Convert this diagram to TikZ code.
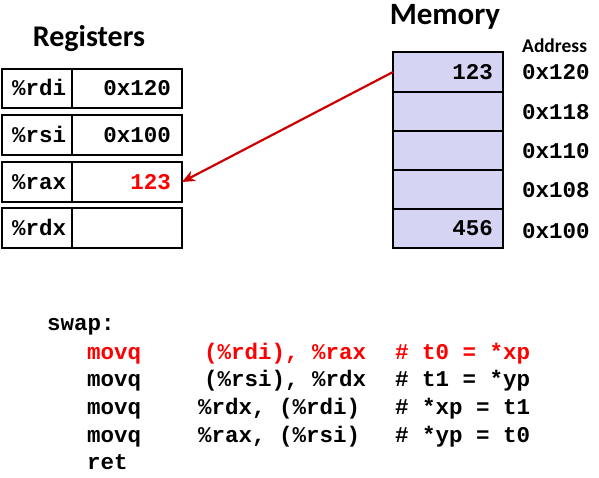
\documentclass[tikz,border=0pt]{standalone}
\usepackage{fontspec}
\setmainfont{Carlito}
\newfontfamily\codefont{Liberation Mono}
\usetikzlibrary{arrows.meta}
\definecolor{memfill}{HTML}{D5D5F3}
\definecolor{arrowred}{HTML}{CC0000}
\definecolor{codered}{HTML}{FF0000}
\tikzset{
  regbox/.style={draw=black,line width=1.8pt},
  membox/.style={draw=black,line width=1.8pt,fill=memfill},
  code/.style={inner sep=0pt,font=\codefont\bfseries\fontsize{22.5}{24}\selectfont},
  codel/.style={code,anchor=base west},
  coder/.style={code,anchor=base east},
  title/.style={inner sep=0pt,font=\bfseries\fontsize{30}{32}\selectfont,anchor=base},
}
\begin{document}
\begin{tikzpicture}[x=1pt,y=-1pt]
\useasboundingbox (0,0) rectangle (599,477);
% Titles
\node[title] (regt) at (89,46) {Registers};
\node[title,font=\bfseries\fontsize{31}{33}\selectfont] (memt) at (445,24) {Memory};
\node[inner sep=0pt,font=\bfseries\fontsize{19.5}{21}\selectfont,anchor=base west] (addr) at (522,52) {Address};
% Registers
\foreach \i/\t/\b in {1/69/108,2/115/155,3/162/202,4/208/248}{
  \draw[regbox] (2,\t) rectangle (182,\b);
  \draw[regbox] (72,\t) -- (72,\b);
}
\coordinate (raxR) at (182,182);
\node[codel] (r1) at (12,95.5) {\%rdi};
\node[codel] (r2) at (12,142) {\%rsi};
\node[codel] (r3) at (12,189) {\%rax};
\node[codel] (r4) at (12,235) {\%rdx};
\node[coder] (v1) at (171,95.5) {0x120};
\node[coder] (v2) at (171,142) {0x100};
\node[coder,text=codered] (v3) at (171,189) {123};
% Memory
\foreach \t/\b in {52/92,92/131,131/170,170/209,209/248}{
  \draw[membox] (393,\t) rectangle (503,\b);
}
\coordinate (m1L) at (393,72);
\node[coder] (m1) at (493,79) {123};
\node[coder] (m5) at (493,235.5) {456};
\node[codel] (a1) at (522,79) {0x120};
\node[codel] (a2) at (522,119) {0x118};
\node[codel] (a3) at (522,158) {0x110};
\node[codel] (a4) at (522,197) {0x108};
\node[codel] (a5) at (522,238) {0x100};
% Arrow
\draw[arrowred,line width=2.2pt,-{Stealth[length=13pt,width=11pt,inset=4pt]}] (m1L) -- (raxR);
% Code
\node[codel] (sw) at (47,330) {swap:};
\node[codel,text=codered] (c1a) at (87,359) {movq};
\node[codel,text=codered] (c1b) at (204,359) {(\%rdi), \%rax};
\node[codel,text=codered] (c1c) at (395,359) {\# t0 = *xp};
\node[codel] (c2a) at (87,386) {movq};
\node[codel] (c2b) at (204,386) {(\%rsi), \%rdx};
\node[codel] (c2c) at (395,386) {\# t1 = *yp};
\node[codel] (c3a) at (87,414) {movq};
\node[codel] (c3b) at (198,414) {\%rdx, (\%rdi)};
\node[codel] (c3c) at (395,414) {\# *xp = t1};
\node[codel] (c4a) at (87,442) {movq};
\node[codel] (c4b) at (198,442) {\%rax, (\%rsi)};
\node[codel] (c4c) at (395,442) {\# *yp = t0};
\node[codel] (c5a) at (87,469) {ret};
\end{tikzpicture}
\end{document}
